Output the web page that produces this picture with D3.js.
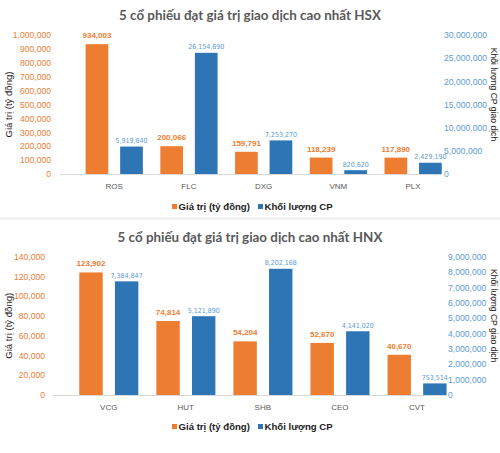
<!DOCTYPE html>
<html>
<head>
<meta charset="utf-8">
<script src="https://cdn.jsdelivr.net/npm/d3@7"></script>
<style>
  html, body { margin: 0; padding: 0; background: #fff; }
  svg { display: block; }
</style>
</head>
<body>
<svg id="chart" width="500" height="453"></svg>
<script>
// ---- Data ----
const hsxTitle = "5 cổ phiếu đạt giá trị giao dịch cao nhất HSX";
const hsxCategories = ["ROS", "FLC", "DXG", "VNM", "PLX"];
const hsxValues = [934003, 200066, 159791, 118239, 117890];
const hsxVolumes = [5919840, 26154690, 7253270, 820620, 2429190];
const hsxLeftTicks = [0, 100000, 200000, 300000, 400000, 500000, 600000, 700000, 800000, 900000, 1000000];
const hsxRightTicks = [0, 5000000, 10000000, 15000000, 20000000, 25000000, 30000000];

const hnxTitle = "5 cổ phiếu đạt giá trị giao dịch cao nhất HNX";
const hnxCategories = ["VCG", "HUT", "SHB", "CEO", "CVT"];
const hnxValues = [123902, 74814, 54204, 52670, 40670];
const hnxVolumes = [7384847, 5121890, 8202168, 4141020, 753514];
const hnxLeftTicks = [0, 20000, 40000, 60000, 80000, 100000, 120000, 140000];
const hnxRightTicks = [0, 1000000, 2000000, 3000000, 4000000, 5000000, 6000000, 7000000, 8000000, 9000000];

const seriesNames = ["Giá trị (tỷ đồng)", "Khối lượng CP"];
const leftAxisTitle = "Giá trị (tỷ đồng)";
const rightAxisTitle = "Khối lượng CP giao dịch";

// ---- Styles ----
const ORANGE = "#ED7D31";
const BLUE = "#2E75B6";
const BLUE_TEXT = "#5B9BD5";
const GRAY = "#595959";
const FONT = "'Liberation Sans', Arial, sans-serif";
const fmt = d3.format(",");

const svg = d3.select("#chart");

function drawChart(opt) {
  const g = svg.append("g");
  const yL = d3.scaleLinear().domain([0, opt.leftTicks[opt.leftTicks.length - 1]]).range([opt.y0, opt.y1]);
  const yR = d3.scaleLinear().domain([0, opt.rightTicks[opt.rightTicks.length - 1]]).range([opt.y0, opt.y1]);
  const x0 = d3.scaleBand().domain(opt.categories).range([opt.xStart, opt.xEnd]).paddingInner(0).paddingOuter(0);
  const bw = x0.bandwidth();
  const x1 = d3.scaleBand().domain(["v", "q"]).range([bw * 0.118, bw * 0.884]).paddingInner(0.343).paddingOuter(0);

  // title
  g.append("text").attr("x", 250).attr("y", opt.titleY)
    .attr("text-anchor", "middle")
    .style("font-family", "Lato, 'Open Sans', sans-serif").style("font-weight", 700)
    .style("font-size", "13.4px").style("fill", GRAY)
    .text(opt.title);

  // baseline
  g.append("line").attr("x1", opt.baseX1).attr("x2", opt.baseX2)
    .attr("y1", opt.y0 + 0.5).attr("y2", opt.y0 + 0.5)
    .attr("stroke", "#d9d9d9").attr("stroke-width", 1);

  // left axis
  const la = d3.axisLeft(yL).tickValues(opt.leftTicks).tickFormat(fmt).tickSize(0).tickPadding(0);
  const lg = g.append("g").attr("transform", `translate(${opt.leftAxisX},0)`).call(la);
  lg.select(".domain").remove();
  lg.selectAll("text").style("font-family", FONT).style("font-size", "8.6px").style("fill", ORANGE);

  // right axis
  const ra = d3.axisRight(yR).tickValues(opt.rightTicks).tickFormat(fmt).tickSize(0).tickPadding(0);
  const rg = g.append("g").attr("transform", `translate(${opt.rightAxisX},0)`).call(ra);
  rg.select(".domain").remove();
  rg.selectAll("text").style("font-family", FONT).style("font-size", "8.6px").style("fill", BLUE_TEXT);

  // axis titles
  g.append("text")
    .attr("transform", `translate(${opt.leftTitleX},${(opt.y0 + opt.y1) / 2}) rotate(-90)`)
    .attr("text-anchor", "middle").attr("dy", "0.35em")
    .style("font-family", FONT).style("font-size", "9.6px").style("fill", "#222")
    .text(leftAxisTitle);
  g.append("text")
    .attr("transform", `translate(${opt.rightTitleX},${(opt.y0 + opt.y1) / 2 - 10}) rotate(90)`)
    .attr("text-anchor", "middle").attr("dy", "0.35em")
    .style("font-family", FONT).style("font-size", "8.6px").style("fill", "#222")
    .text(rightAxisTitle);

  // category labels
  const cg = g.append("g");
  cg.selectAll("text").data(opt.categories).join("text")
    .attr("x", d => x0(d) + bw / 2).attr("y", opt.catY)
    .attr("text-anchor", "middle")
    .style("font-family", FONT).style("font-size", "8px").style("fill", GRAY)
    .text(d => d);

  const rows = opt.categories.map((c, i) => ({ c, v: opt.values[i], q: opt.volumes[i] }));

  // orange bars
  g.append("g").selectAll("rect").data(rows).join("rect")
    .attr("x", d => x0(d.c) + x1("v")).attr("width", x1.bandwidth())
    .attr("y", d => yL(d.v)).attr("height", d => yL(0) - yL(d.v))
    .attr("fill", ORANGE);
  // blue bars
  g.append("g").selectAll("rect").data(rows).join("rect")
    .attr("x", d => x0(d.c) + x1("q")).attr("width", x1.bandwidth())
    .attr("y", d => yR(d.q)).attr("height", d => yR(0) - yR(d.q))
    .attr("fill", BLUE);

  // value labels
  g.append("g").selectAll("text").data(rows).join("text")
    .attr("x", d => x0(d.c) + x1("v") + x1.bandwidth() / 2)
    .attr("y", d => yL(d.v) - 6)
    .attr("text-anchor", "middle")
    .style("font-family", FONT).style("font-weight", "bold").style("font-size", "8px").style("fill", ORANGE)
    .text(d => fmt(d.v));
  g.append("g").selectAll("text").data(rows).join("text")
    .attr("x", d => x0(d.c) + x1("q") + x1.bandwidth() / 2)
    .attr("y", d => yR(d.q) - 3.5)
    .attr("text-anchor", "middle")
    .style("font-family", "'Liberation Sans Narrow', 'DejaVu Sans Condensed', sans-serif")
    .style("font-size", "7px").style("fill", BLUE_TEXT)
    .text(d => fmt(d.q));

  // legend
  const lgd = g.append("g");
  const items = [
    { name: seriesNames[0], color: ORANGE, x: 172 },
    { name: seriesNames[1], color: BLUE, x: 258 }
  ];
  items.forEach(it => {
    lgd.append("rect").attr("x", it.x).attr("y", opt.legendY - 2.5).attr("width", 5).attr("height", 5).attr("fill", it.color);
    lgd.append("text").attr("x", it.x + 6.5).attr("y", opt.legendY).attr("dy", "0.35em")
      .style("font-family", FONT).style("font-weight", "bold").style("font-size", "9.6px").style("fill", "#222")
      .text(it.name);
  });
}

drawChart({
  title: hsxTitle, categories: hsxCategories, values: hsxValues, volumes: hsxVolumes,
  leftTicks: hsxLeftTicks, rightTicks: hsxRightTicks,
  titleY: 20, y0: 174, y1: 35, xStart: 76.8, xEnd: 450.4,
  baseX1: 60, baseX2: 442, leftAxisX: 51, rightAxisX: 444,
  leftTitleX: 9, rightTitleX: 494, catY: 189, legendY: 206.5
});

// separator
svg.append("rect").attr("x", 0).attr("y", 217.5).attr("width", 500).attr("height", 2).attr("fill", "#eeeeee");

drawChart({
  title: hnxTitle, categories: hnxCategories, values: hnxValues, volumes: hnxVolumes,
  leftTicks: hnxLeftTicks, rightTicks: hnxRightTicks,
  titleY: 242, y0: 395, y1: 256.5, xStart: 70.2, xEnd: 455.5,
  baseX1: 53, baseX2: 447, leftAxisX: 45, rightAxisX: 448,
  leftTitleX: 9, rightTitleX: 494, catY: 410, legendY: 426.5
});
</script>
</body>
</html>
